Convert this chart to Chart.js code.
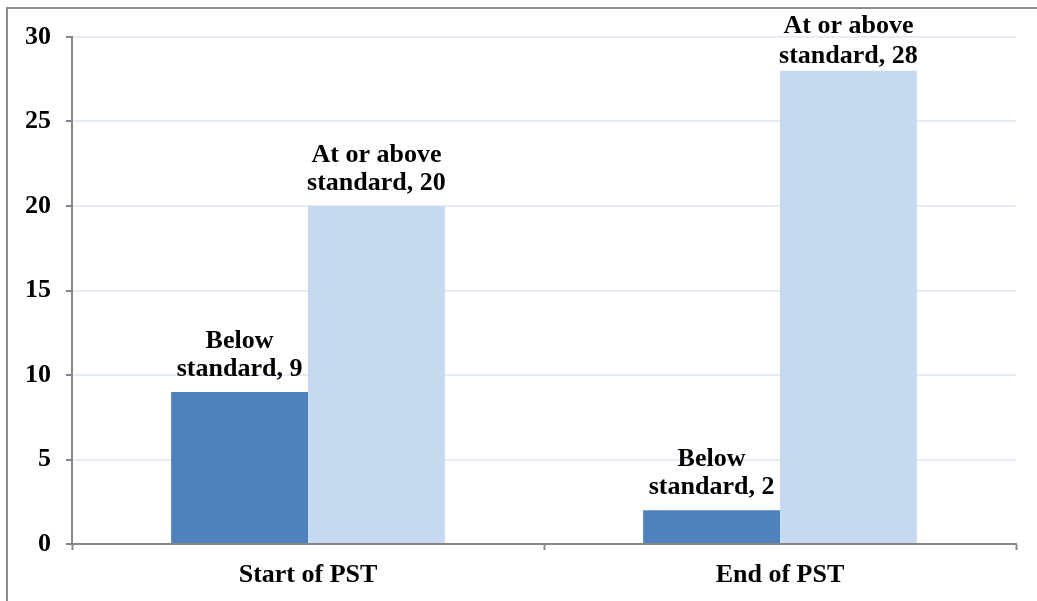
<!DOCTYPE html>
<html>
<head>
<meta charset="utf-8">
<script src="https://cdn.jsdelivr.net/npm/chart.js@4.4.1/dist/chart.umd.min.js"></script>
<style>
html,body{margin:0;padding:0;background:#fff;}
#wrap{width:1037px;height:601px;position:relative;}
</style>
</head>
<body>
<div id="wrap"><canvas id="c" width="1037" height="601"></canvas></div>
<script>
const categories = ["Start of PST", "End of PST"];
const belowValues = [9, 2];
const aboveValues = [20, 28];
const belowLabel = ["Below", "standard"];
const aboveLabel = ["At or above", "standard"];
const yTicks = [0, 5, 10, 15, 20, 25, 30];

const FONT = "'Liberation Serif', 'Times New Roman', serif";

const framePlugin = {
  id: 'frame',
  afterDraw(chart) {
    const ctx = chart.ctx;
    ctx.save();
    ctx.strokeStyle = '#8c8c8c';
    ctx.lineWidth = 2;
    ctx.beginPath();
    ctx.moveTo(7, 601);
    ctx.lineTo(7, 8);
    ctx.lineTo(1037, 8);
    ctx.stroke();
    ctx.restore();
  }
};

const labelPlugin = {
  id: 'barLabels',
  afterDatasetsDraw(chart) {
    const ctx = chart.ctx;
    ctx.save();
    ctx.font = 'bold 26px ' + FONT;
    ctx.fillStyle = '#000';
    ctx.textAlign = 'center';
    ctx.textBaseline = 'alphabetic';
    chart.data.datasets.forEach((ds, di) => {
      const meta = chart.getDatasetMeta(di);
      meta.data.forEach((bar, i) => {
        const lines = [ds.labelLines[0], ds.labelLines[1] + ', ' + ds.data[i]];
        let b2 = bar.y - 16;
        let b1 = b2 - 28;
        if (b1 < 33) { const s = 33 - b1; b1 += s; b2 += s + 2; }
        ctx.fillText(lines[0], bar.x, b1);
        ctx.fillText(lines[1], bar.x, b2);
      });
    });
    ctx.restore();
  }
};

new Chart(document.getElementById('c'), {
  type: 'bar',
  data: {
    labels: categories,
    datasets: [
      { data: belowValues, labelLines: belowLabel, backgroundColor: '#4F81BD', borderWidth: 0,
        categoryPercentage: 0.58, barPercentage: 1.0 },
      { data: aboveValues, labelLines: aboveLabel, backgroundColor: '#C6D9F1', borderWidth: 0,
        categoryPercentage: 0.58, barPercentage: 1.0 }
    ]
  },
  options: {
    responsive: false,
    animation: false,
    devicePixelRatio: 1,
    layout: { padding: { top: 37, right: 21, left: 0, bottom: 0 } },
    plugins: { legend: { display: false }, tooltip: { enabled: false }, title: { display: false } },
    scales: {
      x: {
        offset: true,
        grid: { display: true, drawOnChartArea: false, offset: true, tickLength: 6, tickColor: '#868686', tickWidth: 2 },
        border: { color: '#868686', width: 2 },
        ticks: { color: '#000', font: { family: FONT, size: 26, weight: 'bold' }, padding: 10, maxRotation: 0 },
        afterFit(s) { s.height = 57; }
      },
      y: {
        min: 0, max: 30,
        afterBuildTicks(s) { s.ticks = yTicks.map(v => ({ value: v })); },
        grid: { color: '#e6ecf5', lineWidth: 2, tickLength: 6, tickColor: '#868686', tickWidth: 2 },
        border: { color: '#868686', width: 2 },
        ticks: { color: '#000', font: { family: FONT, size: 26, weight: 'bold' }, padding: 15 },
        afterFit(s) { s.width = 72; }
      }
    }
  },
  plugins: [framePlugin, labelPlugin]
});
</script>
</body>
</html>
